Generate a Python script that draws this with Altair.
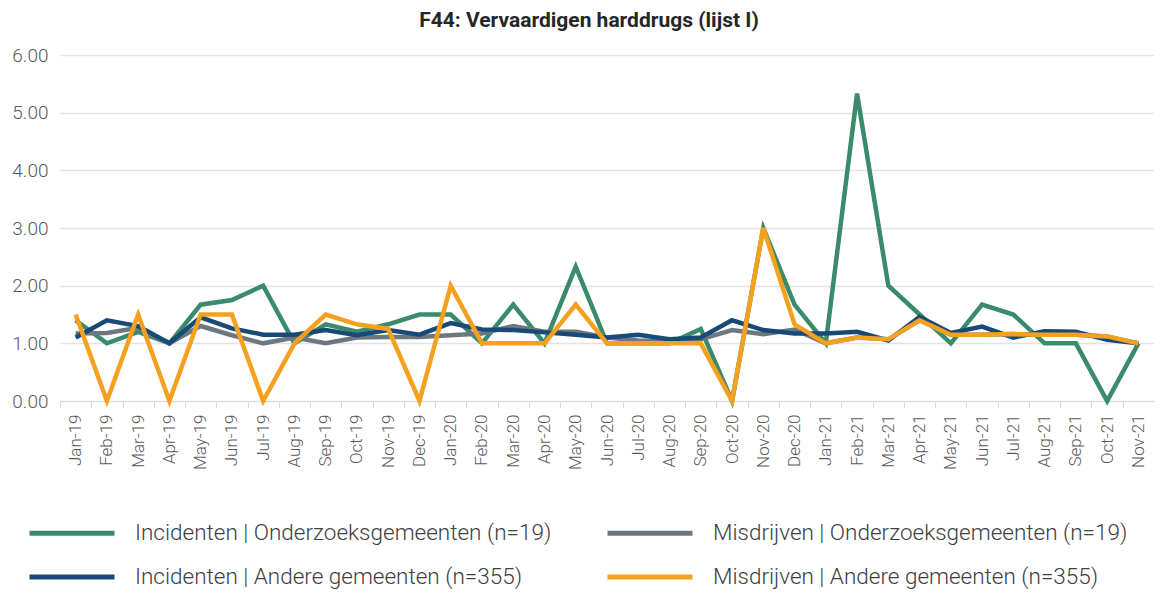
import altair as alt
import pandas as pd

months = ["Jan-19","Feb-19","Mar-19","Apr-19","May-19","Jun-19","Jul-19","Aug-19","Sep-19","Oct-19","Nov-19","Dec-19",
          "Jan-20","Feb-20","Mar-20","Apr-20","May-20","Jun-20","Jul-20","Aug-20","Sep-20","Oct-20","Nov-20","Dec-20",
          "Jan-21","Feb-21","Mar-21","Apr-21","May-21","Jun-21","Jul-21","Aug-21","Sep-21","Oct-21","Nov-21"]

series_names = ["Incidenten | Onderzoeksgemeenten (n=19)",
                "Misdrijven | Onderzoeksgemeenten (n=19)",
                "Incidenten | Andere gemeenten (n=355)",
                "Misdrijven | Andere gemeenten (n=355)"]

inc_onderzoek = [1.4, 1.0, 1.2, 1.0, 1.67, 1.75, 2.0, 1.0, 1.33, 1.2, 1.33, 1.5,
                 1.5, 1.0, 1.67, 1.0, 2.33, 1.0, 1.0, 1.0, 1.25, 0.0, 3.0, 1.67,
                 1.0, 5.33, 2.0, 1.5, 1.0, 1.67, 1.5, 1.0, 1.0, 0.0, 1.0]
mis_onderzoek = [1.17, 1.18, 1.27, 1.0, 1.3, 1.14, 1.0, 1.1, 1.0, 1.1, 1.11, 1.11,
                 1.14, 1.17, 1.3, 1.2, 1.2, 1.1, 1.05, 1.03, 1.07, 1.23, 1.16, 1.24,
                 1.0, 1.1, 1.07, 1.4, 1.15, 1.15, 1.16, 1.15, 1.15, 1.12, 1.0]
inc_andere = [1.1, 1.4, 1.3, 1.0, 1.45, 1.26, 1.15, 1.15, 1.23, 1.14, 1.23, 1.15,
              1.35, 1.24, 1.23, 1.19, 1.15, 1.1, 1.15, 1.07, 1.1, 1.4, 1.23, 1.17,
              1.17, 1.2, 1.05, 1.46, 1.18, 1.29, 1.1, 1.21, 1.2, 1.06, 1.0]
mis_andere = [1.5, 0.0, 1.5, 0.0, 1.5, 1.5, 0.0, 1.0, 1.5, 1.33, 1.25, 0.0,
              2.0, 1.0, 1.0, 1.0, 1.67, 1.0, 1.0, 1.0, 1.0, 0.0, 3.0, 1.33,
              1.0, 1.1, 1.07, 1.4, 1.15, 1.15, 1.16, 1.15, 1.15, 1.12, 1.0]

colors = ["#3A8B6C", "#6D7780", "#184A77", "#F5A11F"]

rows = []
for name, vals in zip(series_names, [inc_onderzoek, mis_onderzoek, inc_andere, mis_andere]):
    for i, (m, v) in enumerate(zip(months, vals)):
        rows.append({"month": m, "value": v, "series": name, "idx": i})
df = pd.DataFrame(rows)

# legend laid out column-major -> order domain so rows read as in the reference
legend_domain = [series_names[0], series_names[2], series_names[1], series_names[3]]
legend_range = [colors[0], colors[2], colors[1], colors[3]]

FONT = "Roboto"

chart = alt.Chart(df).mark_line(strokeWidth=4.5, strokeJoin="miter").encode(
    x=alt.X("month:O", sort=months, bandPosition=0.5,
            scale=alt.Scale(type="band", paddingInner=0, paddingOuter=0),
            axis=alt.Axis(title=None, labelAngle=-90, labelFontSize=17, labelColor="#595959",
                          labelFont=FONT, labelFontWeight=300, labelPadding=6,
                          tickBand="extent", ticks=True, tickSize=7, tickColor="#d9d9d9",
                          domainColor="#d9d9d9", domainWidth=1, grid=False)),
    y=alt.Y("value:Q", scale=alt.Scale(domain=[0, 6], nice=False),
            axis=alt.Axis(title=None, values=[0, 1, 2, 3, 4, 5, 6], format=".2f",
                          labelFontSize=19, labelColor="#595959", labelFont=FONT, labelFontWeight=300,
                          labelPadding=12, ticks=False, domain=False,
                          gridColor="#e3e3e3", gridWidth=1.5)),
    color=alt.Color("series:N", scale=alt.Scale(domain=legend_domain, range=legend_range),
                    legend=alt.Legend(title=None, orient="none", legendX=-12, legendY=454,
                                      columns=2, columnPadding=45, rowPadding=8,
                                      symbolType="M-2,0H2", symbolSize=1806, symbolStrokeWidth=5,
                                      labelFontSize=22.5, labelFont=FONT, labelFontWeight=300,
                                      labelColor="#404040", labelLimit=700, labelOffset=39)),
    order=alt.Order("idx:Q"),
).properties(
    width=1094, height=346,
    title=alt.TitleParams("F44: Vervaardigen harddrugs (lijst I)", font=FONT, fontSize=21,
                          fontWeight="bold", color="#262626", anchor="middle", dx=-18, offset=15),
    autosize="none",
    padding={"left": 52, "top": 47, "right": 0, "bottom": 191},
).configure_view(stroke=None)

chart.save("out.html", embed_options={"renderer": "svg", "actions": False})
